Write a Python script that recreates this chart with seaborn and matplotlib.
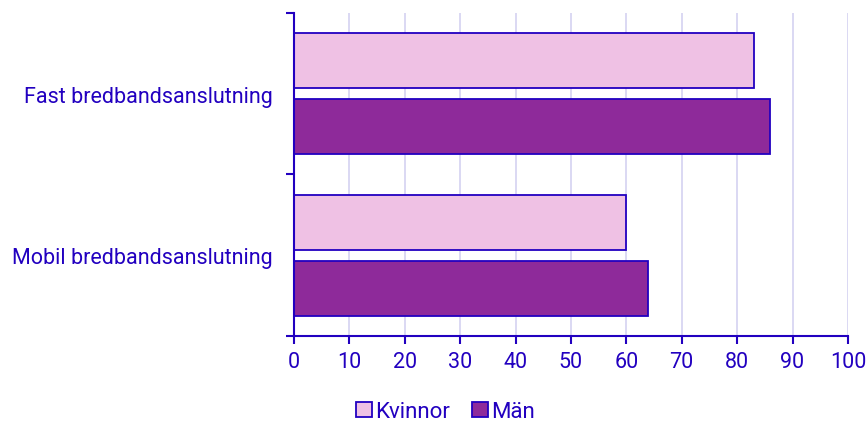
import pandas as pd
import matplotlib.pyplot as plt
import seaborn as sns

# data
categories = ["Fast bredbandsanslutning", "Mobil bredbandsanslutning"]
kvinnor = [83, 60]
man = [86, 64]
groups = ["Kvinnor", "Män"]

df = pd.DataFrame({
    "Kategori": categories * 2,
    "Andel": kvinnor + man,
    "Kön": [groups[0]] * 2 + [groups[1]] * 2,
})

blue = "#2200c0"
sns.set_theme(style="white")
plt.rcParams["font.family"] = ["Roboto", "DejaVu Sans"]

fig = plt.figure(figsize=(8.67, 4.27), dpi=100)
ax = fig.add_axes([0.339, 0.211, 0.639, 0.756])

sns.barplot(
    data=df, y="Kategori", x="Andel", hue="Kön",
    palette=["#efc1e4", "#8e2a9a"], saturation=1, orient="h",
    width=0.82, gap=0.17, edgecolor=blue, linewidth=1.3,
    ax=ax, legend=True,
)

ax.set_xlim(0, 100)
ax.set_ylim(1.5, -0.5)
ax.set_xticks(range(0, 101, 10))
ax.set_yticks([-0.5, 0.5, 1.5], minor=True)
ax.grid(axis="x", color="#d8d6f2", linewidth=1.3)
ax.set_axisbelow(True)
ax.set_xlabel("")
ax.set_ylabel("")

for side in ["top", "right"]:
    ax.spines[side].set_visible(False)
for side in ["left", "bottom"]:
    ax.spines[side].set_color(blue)
    ax.spines[side].set_linewidth(1.5)

ax.tick_params(axis="x", colors=blue, labelsize=15.5, length=6, width=1.5,
               direction="out", bottom=True, pad=5)
ax.tick_params(axis="y", which="major", colors=blue, labelsize=15.5, length=0, pad=15)
ax.tick_params(axis="y", which="minor", colors=blue, length=6, width=1.5,
               direction="out", left=True)

handles, labels = ax.get_legend_handles_labels()
ax.legend_.remove()
fig.legend(handles, labels, loc="center", bbox_to_anchor=(0.514, 0.033),
           ncol=2, frameon=False, fontsize=16, labelcolor=blue,
           handlelength=0.7, handleheight=0.7, handletextpad=0.15,
           columnspacing=1.0)

plt.savefig("out.png", dpi=100)
